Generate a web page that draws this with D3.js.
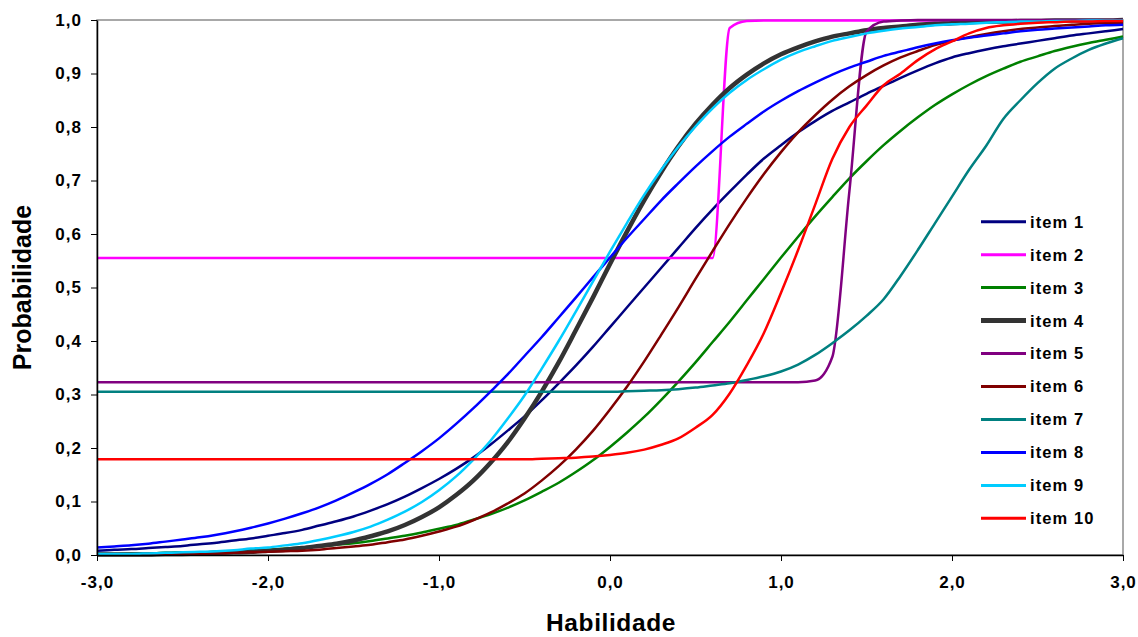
<!DOCTYPE html>
<html>
<head>
<meta charset="utf-8">
<script src="https://cdn.jsdelivr.net/npm/d3@7"></script>
<style>
  body { margin: 0; background: #fff; }
  svg text { font-family: "Liberation Sans", Arial, sans-serif; font-weight: bold; fill: #000; }
</style>
</head>
<body>
<svg id="chart"></svg>
<script>
const width = 1138;
const height = 637;
const plotLeft = 97, plotRight = 1123, plotTop = 20, plotBottom = 555;

// habilidade (theta) grid
const habilidade = [
  -3.0,-2.9,-2.8,-2.7,-2.6,-2.5,-2.4,-2.3,-2.2,-2.1,
  -2.0,-1.9,-1.8,-1.7,-1.6,-1.5,-1.4,-1.3,-1.2,-1.1,
  -1.0,-0.9,-0.8,-0.7,-0.6,-0.5,-0.4,-0.3,-0.2,-0.1,
  0.0,0.1,0.2,0.3,0.4,0.5,0.6,0.7,0.8,0.9,
  1.0,1.1,1.2,1.3,1.4,1.5,1.6,1.7,1.8,1.9,
  2.0,2.1,2.2,2.3,2.4,2.5,2.6,2.7,2.8,2.9,
  3.0
];

const item1 = [
  0.008,0.010,0.011,0.013,0.015,0.017,0.020,0.023,0.027,0.031,
  0.036,0.041,0.047,0.055,0.063,0.072,0.083,0.095,0.109,0.125,
  0.142,0.161,0.182,0.206,0.232,0.259,0.289,0.321,0.354,0.389,
  0.426,0.463,0.500,0.537,0.574,0.611,0.646,0.679,0.711,0.741,
  0.766,0.790,0.811,0.830,0.846,0.862,0.877,0.892,0.906,0.919,
  0.930,0.938,0.945,0.951,0.956,0.961,0.966,0.971,0.975,0.979,
  0.983
];
const item2 = [
  0.555,0.555,0.555,0.555,0.555,0.555,0.555,0.555,0.555,0.555,
  0.555,0.555,0.555,0.555,0.555,0.555,0.555,0.555,0.555,0.555,
  0.555,0.555,0.555,0.555,0.555,0.555,0.555,0.555,0.555,0.555,
  0.555,0.555,0.555,0.555,0.555,0.555,0.555,0.985,0.998,0.999,
  0.999,0.999,0.999,0.999,0.999,0.999,0.999,0.999,0.999,0.999,
  0.999,0.999,0.999,0.999,0.999,0.999,0.999,0.999,0.999,0.999,
  0.999
];
const item3 = [
  0.002,0.002,0.003,0.003,0.004,0.005,0.005,0.006,0.007,0.009,
  0.010,0.012,0.014,0.016,0.019,0.022,0.026,0.031,0.036,0.042,
  0.049,0.056,0.066,0.076,0.088,0.102,0.118,0.135,0.155,0.177,
  0.202,0.229,0.258,0.290,0.324,0.360,0.398,0.436,0.476,0.516,
  0.556,0.595,0.633,0.669,0.704,0.736,0.766,0.793,0.818,0.841,
  0.861,0.879,0.895,0.909,0.922,0.932,0.942,0.950,0.957,0.963,
  0.969
];
const item4 = [
  0.001,0.001,0.001,0.001,0.002,0.002,0.003,0.004,0.005,0.006,
  0.008,0.010,0.013,0.017,0.021,0.027,0.035,0.044,0.056,0.071,
  0.089,0.112,0.139,0.172,0.210,0.255,0.305,0.360,0.420,0.481,
  0.544,0.605,0.663,0.716,0.764,0.806,0.842,0.873,0.898,0.919,
  0.936,0.949,0.960,0.969,0.975,0.981,0.985,0.988,0.991,0.993,
  0.994,0.996,0.997,0.997,0.998,0.998,0.999,0.999,0.999,0.999,
  1.000
];
const item5 = [
  0.323,0.323,0.323,0.323,0.323,0.323,0.323,0.323,0.323,0.323,
  0.323,0.323,0.323,0.323,0.323,0.323,0.323,0.323,0.323,0.323,
  0.323,0.323,0.323,0.323,0.323,0.323,0.323,0.323,0.323,0.323,
  0.323,0.323,0.323,0.323,0.323,0.323,0.323,0.323,0.323,0.323,
  0.323,0.323,0.326,0.370,0.680,0.978,0.997,0.999,1.000,1.000,
  1.000,1.000,1.000,1.000,1.000,1.000,1.000,1.000,1.000,1.000,
  1.000
];
const item6 = [
  0.001,0.001,0.001,0.001,0.002,0.002,0.002,0.003,0.004,0.005,
  0.006,0.007,0.008,0.010,0.013,0.016,0.019,0.024,0.029,0.036,
  0.044,0.053,0.065,0.079,0.096,0.115,0.139,0.166,0.197,0.232,
  0.272,0.315,0.362,0.412,0.463,0.516,0.568,0.619,0.667,0.712,
  0.753,0.790,0.822,0.851,0.876,0.897,0.915,0.930,0.942,0.953,
  0.961,0.968,0.974,0.979,0.983,0.986,0.989,0.991,0.993,0.994,
  0.995
];
const item7 = [
  0.305,0.305,0.305,0.305,0.305,0.305,0.305,0.305,0.305,0.305,
  0.305,0.305,0.305,0.305,0.305,0.305,0.305,0.305,0.305,0.305,
  0.305,0.305,0.305,0.305,0.305,0.305,0.305,0.305,0.305,0.305,
  0.305,0.306,0.307,0.308,0.310,0.313,0.317,0.321,0.327,0.334,
  0.343,0.356,0.374,0.396,0.420,0.447,0.478,0.522,0.570,0.620,
  0.670,0.720,0.765,0.815,0.850,0.882,0.909,0.928,0.944,0.956,
  0.966
];
const item8 = [
  0.014,0.016,0.018,0.021,0.025,0.029,0.033,0.038,0.044,0.051,
  0.059,0.068,0.078,0.089,0.102,0.117,0.133,0.151,0.172,0.194,
  0.218,0.245,0.274,0.305,0.337,0.372,0.407,0.444,0.481,0.519,
  0.556,0.593,0.628,0.663,0.695,0.726,0.755,0.782,0.806,0.829,
  0.849,0.867,0.883,0.898,0.911,0.922,0.933,0.941,0.949,0.956,
  0.962,0.967,0.971,0.975,0.979,0.982,0.984,0.986,0.988,0.990,
  0.991
];
const item9 = [
  0.002,0.002,0.002,0.003,0.004,0.005,0.006,0.007,0.009,0.012,
  0.014,0.018,0.022,0.028,0.035,0.043,0.053,0.066,0.081,0.099,
  0.121,0.147,0.178,0.213,0.254,0.298,0.348,0.400,0.455,0.511,
  0.567,0.621,0.673,0.720,0.763,0.801,0.835,0.864,0.888,0.908,
  0.926,0.940,0.951,0.961,0.968,0.975,0.980,0.984,0.987,0.990,
  0.992,0.993,0.995,0.996,0.997,0.997,0.998,0.998,0.999,0.999,
  0.999
];
const item10 = [
  0.179,0.179,0.179,0.179,0.179,0.179,0.179,0.179,0.179,0.179,
  0.179,0.179,0.179,0.179,0.179,0.179,0.179,0.179,0.179,0.179,
  0.179,0.179,0.179,0.179,0.179,0.179,0.180,0.181,0.182,0.184,
  0.187,0.191,0.197,0.206,0.218,0.238,0.262,0.302,0.355,0.415,
  0.490,0.570,0.655,0.740,0.800,0.840,0.878,0.900,0.925,0.945,
  0.960,0.975,0.985,0.990,0.993,0.995,0.996,0.997,0.997,0.998,
  0.998
];

const itemNames = ['item 1','item 2','item 3','item 4','item 5','item 6','item 7','item 8','item 9','item 10'];
const itemValues = [item1, item2, item3, item4, item5, item6, item7, item8, item9, item10];
const itemColors = ['#000080','#FF00FF','#008000','#333333','#800080','#800000','#008080','#0000FF','#00CCFF','#FF0000'];
const itemWidths = [2.5, 2.5, 2.5, 4.5, 2.5, 2.5, 2.5, 2.5, 2.5, 2.5];

const xTicks = [-3, -2, -1, 0, 1, 2, 3];
const yTicks = [0, 0.1, 0.2, 0.3, 0.4, 0.5, 0.6, 0.7, 0.8, 0.9, 1.0];

const svg = d3.select('#chart').attr('width', width).attr('height', height);

const x = d3.scaleLinear().domain([-3, 3]).range([plotLeft, plotRight]);
const y = d3.scaleLinear().domain([0, 1]).range([plotBottom, plotTop]);

const fmt = d => d3.format('.1f')(d).replace('.', ',').replace('−', '-');

// plot area border (gray top/right)
svg.append('rect')
  .attr('x', plotLeft).attr('y', plotTop)
  .attr('width', plotRight - plotLeft).attr('height', plotBottom - plotTop)
  .attr('fill', 'none').attr('stroke', '#8c8c8c').attr('stroke-width', 1.5);

// lines
const line = d3.line()
  .x((d, i) => x(habilidade[i]))
  .y(d => y(d))
  .curve(d3.curveMonotoneX);

svg.append('g')
  .selectAll('path')
  .data(itemValues)
  .enter().append('path')
  .attr('fill', 'none')
  .attr('stroke', (d, i) => itemColors[i])
  .attr('stroke-width', (d, i) => itemWidths[i])
  .attr('stroke-linejoin', 'round')
  .attr('d', line);

// axes
svg.append('g')
  .attr('transform', `translate(${plotLeft},0)`)
  .call(d3.axisLeft(y).tickValues(yTicks).tickSize(6).tickSizeOuter(0).tickPadding(9).tickFormat(fmt));

svg.append('g')
  .attr('transform', `translate(0,${plotBottom})`)
  .call(d3.axisBottom(x).tickValues(xTicks).tickSize(6).tickSizeOuter(0).tickPadding(15).tickFormat(fmt));

svg.selectAll('.domain').attr('stroke', '#000').attr('stroke-width', 1.5);
svg.selectAll('.tick line').attr('stroke', '#000').attr('stroke-width', 1);
svg.selectAll('.tick text')
  .style('font-size', '17px')
  .style('letter-spacing', '1px')
  .style('font-family', '"Liberation Sans", Arial, sans-serif')
  .style('font-weight', 'bold');

// axis titles
svg.append('text')
  .attr('transform', `translate(31,${(plotTop + plotBottom) / 2}) rotate(-90)`)
  .attr('text-anchor', 'middle')
  .style('font-size', '25px')
  .text('Probabilidade');

svg.append('text')
  .attr('x', 611).attr('y', 631)
  .attr('text-anchor', 'middle')
  .style('font-size', '24.5px')
  .style('letter-spacing', '0.6px')
  .text('Habilidade');

// legend
const legend = svg.append('g')
  .selectAll('g')
  .data(itemNames)
  .enter().append('g')
  .attr('transform', (d, i) => `translate(981,${221.7 + i * 32.96})`);

legend.append('line')
  .attr('x1', 0).attr('x2', 45)
  .attr('stroke', (d, i) => itemColors[i])
  .attr('stroke-width', (d, i) => itemWidths[i] + 0.5);

legend.append('text')
  .attr('x', 49).attr('dy', '0.36em')
  .style('font-size', '16.5px')
  .style('letter-spacing', '1.1px')
  .text(d => d);
</script>
</body>
</html>
